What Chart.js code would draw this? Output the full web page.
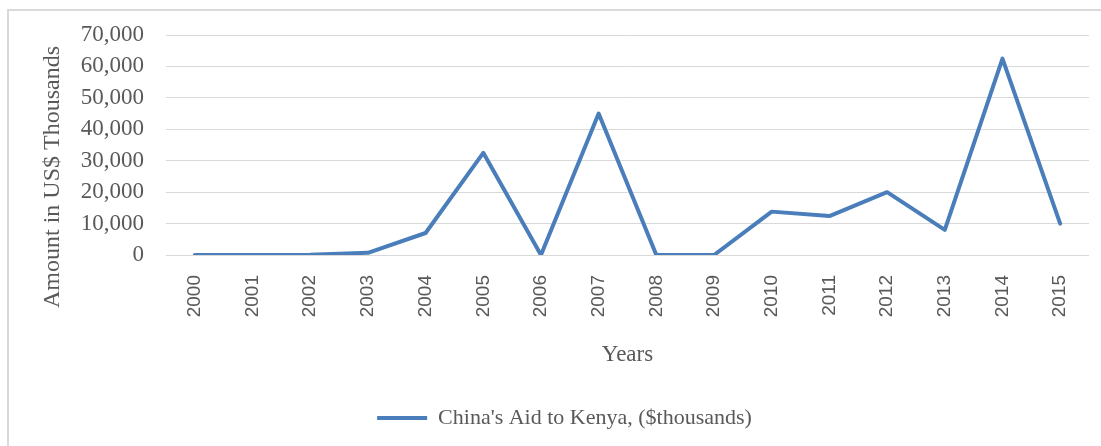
<!DOCTYPE html>
<html>
<head>
<meta charset="utf-8">
<script src="https://cdn.jsdelivr.net/npm/chart.js@4/dist/chart.umd.min.js"></script>
<style>
  html, body { margin: 0; padding: 0; background: #fff; overflow: hidden; }
  #box {
    position: absolute; left: 7px; top: 9px;
    width: 1111px; height: 440px;
    border: 2px solid #d9d9d9;
  }
</style>
</head>
<body>
<div id="box"><canvas id="myChart" width="1111" height="440"></canvas></div>
<script>
var years = ['2000', '2001', '2002', '2003', '2004', '2005', '2006', '2007',
             '2008', '2009', '2010', '2011', '2012', '2013', '2014', '2015'];
var aidToKenya = [0, 0, 100, 700, 7000, 32500, 0, 45000,
                  0, 0, 13800, 12400, 20000, 8000, 62500, 10000];
var yTicks = [0, 10000, 20000, 30000, 40000, 50000, 60000, 70000];

var seriesLabel = "China's Aid to Kenya, ($thousands)";
var yTitle = 'Amount in US$ Thousands';
var xTitle = 'Years';

var textColor = '#595959';
var lineColor = '#4a7ebb';

// y axis title drawn by hand so it can sit where Excel put it
var yTitlePlugin = {
    id: 'yTitle',
    afterDraw: function(chart) {
        var c = chart.ctx;
        c.save();
        c.translate(44, 166);
        c.rotate(-Math.PI / 2);
        c.font = '24px "Liberation Serif", "Times New Roman", serif';
        c.fillStyle = textColor;
        c.textAlign = 'center';
        c.textBaseline = 'middle';
        c.fillText(yTitle, 0, 0);
        c.restore();
    }
};

var ctx = document.getElementById('myChart');
var chart = new Chart(ctx, {
    type: 'line',
    data: {
        labels: years,
        datasets: [{
            label: seriesLabel,
            data: aidToKenya,
            borderColor: lineColor,
            backgroundColor: lineColor,
            borderWidth: 4,
            pointRadius: 0,
            tension: 0,
            borderJoinStyle: 'round',
            borderCapStyle: 'round'
        }]
    },
    options: {
        responsive: false,
        animation: false,
        layout: { padding: { left: 0, right: 0, top: 24, bottom: 12 } },
        plugins: {
            tooltip: { enabled: false },
            legend: {
                position: 'bottom',
                labels: {
                    usePointStyle: true,
                    pointStyle: 'line',
                    pointStyleWidth: 50,
                    padding: 10,
                    color: textColor,
                    font: { family: '"Liberation Serif", "Times New Roman", serif', size: 22 }
                }
            }
        },
        scales: {
            x: {
                offset: true,
                grid: { display: false },
                border: { display: false },
                ticks: {
                    minRotation: 90,
                    maxRotation: 90,
                    autoSkip: false,
                    padding: 12,
                    color: textColor,
                    font: { family: '"Liberation Sans", Arial, sans-serif', size: 19 }
                },
                title: {
                    display: true,
                    text: xTitle,
                    color: textColor,
                    padding: { top: 0, bottom: 28 },
                    font: { family: '"Liberation Serif", "Times New Roman", serif', size: 23 }
                },
                afterFit: function(scale) { scale.height = 142; }
            },
            y: {
                min: 0,
                max: 70000,
                afterBuildTicks: function(scale) {
                    scale.ticks = yTicks.map(function(v) { return { value: v }; });
                },
                grid: { color: '#d9d9d9', lineWidth: 1, drawTicks: false },
                border: { display: false },
                ticks: {
                    padding: 22,
                    autoSkip: false,
                    color: textColor,
                    font: { family: '"Liberation Serif", "Times New Roman", serif', size: 23 },
                    callback: function(v) { return v.toLocaleString('en-US'); }
                },
                afterFit: function(scale) {
                    scale.width = 157;
                    // tick padding should only push labels sideways, not shrink the plot
                    scale.paddingTop = 14;
                    scale.paddingBottom = 14;
                }
            },
            // empty right axis, only to keep room on the right like the original
            yRight: {
                position: 'right',
                grid: { display: false },
                border: { display: false },
                ticks: { display: false },
                afterFit: function(scale) { scale.width = 31; }
            }
        }
    },
    plugins: [yTitlePlugin]
});
</script>
</body>
</html>
